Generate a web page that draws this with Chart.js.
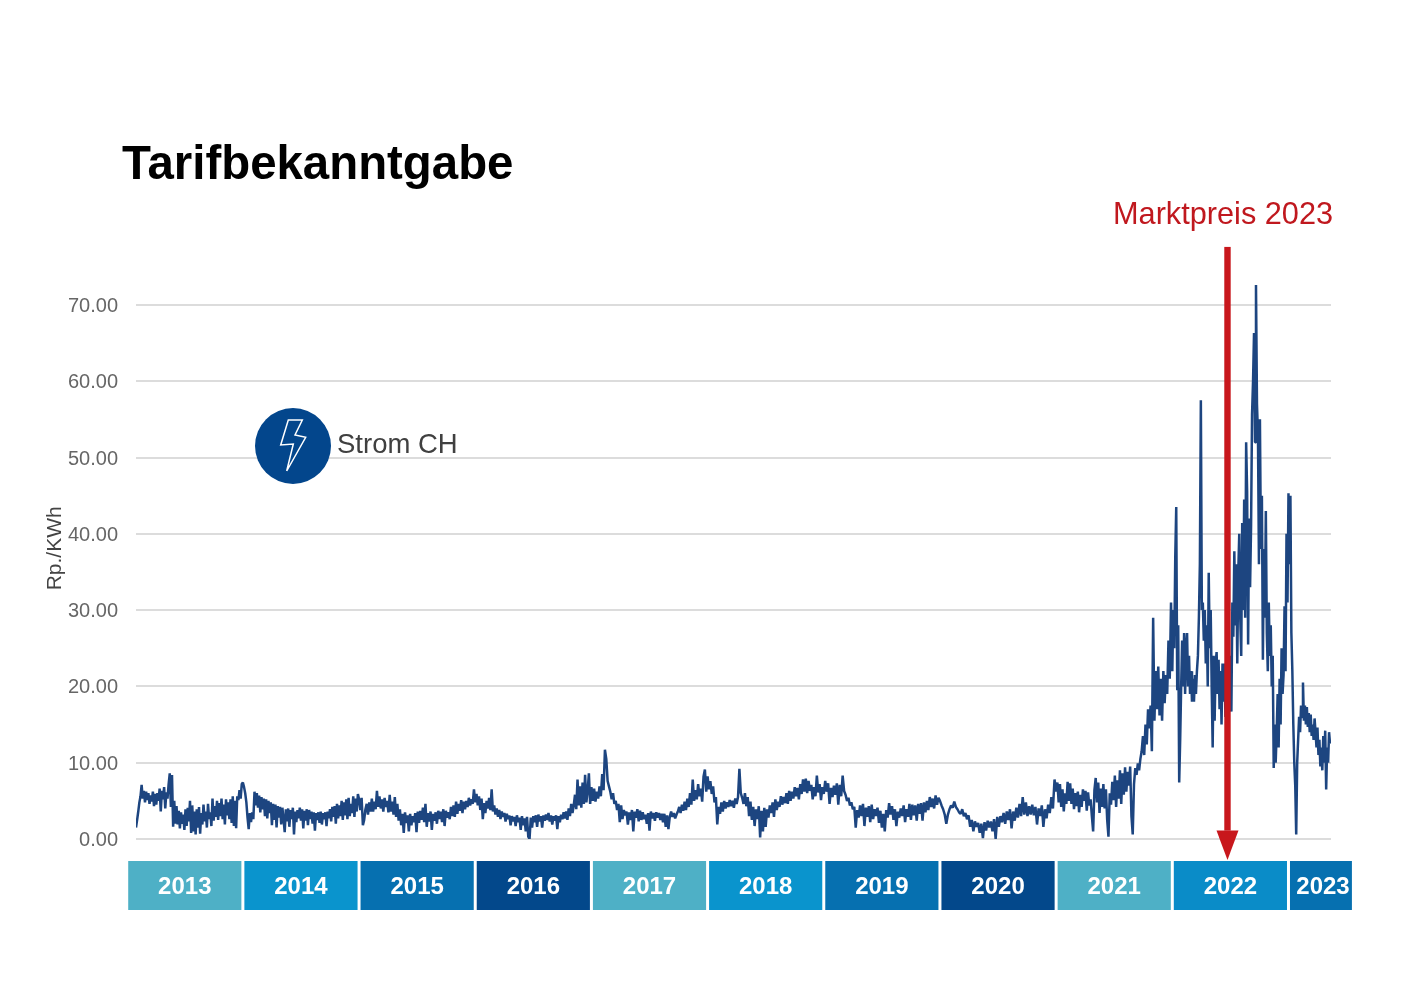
<!DOCTYPE html>
<html>
<head>
<meta charset="utf-8">
<script src="https://cdn.jsdelivr.net/npm/chart.js@4"></script>
<style>
  html, body { margin: 0; padding: 0; background: #fff; }
  #wrap { position: relative; width: 1415px; height: 998px; overflow: hidden; font-family: "Liberation Sans", Arial, sans-serif; }
  canvas { position: absolute; left: 0; top: 0; }
  .txt { position: absolute; white-space: nowrap; line-height: 1; }
  #title { left: 122px; top: 139px; font-size: 47.4px; font-weight: bold; color: #000; }
  #market { left: 1113px; top: 199px; font-size: 30.7px; color: #c0181e; }
  #strom { left: 337px; top: 430px; font-size: 27.5px; color: #404040; }
  #icon { position: absolute; left: 250px; top: 403px; }
</style>
</head>
<body>
<div id="wrap">
  <canvas id="chart" width="1415" height="998"></canvas>
  <div class="txt" id="title">Tarifbekanntgabe</div>
  <div class="txt" id="market">Marktpreis 2023</div>
  <svg id="icon" width="86" height="86" viewBox="250 403 86 86">
    <circle cx="293" cy="446" r="38" fill="#03468c"/>
    <path d="M288.3 420 L302.3 420 L295 435 L305.7 437.3 L286.7 471 L293.3 444 L280.7 445 Z" fill="none" stroke="#fff" stroke-width="1.5"/>
  </svg>
  <div class="txt" id="strom">Strom CH</div>
</div>
<script>
// Rp./KWh, one list per calendar year
const v2013 = [1.5,2.5,3.6,4.8,5.6,7.1,5.3,6.3,4.8,6.2,5.1,6.0,4.6,5.7,4.9,6.2,4.3,5.9,4.5,6.0,5.0,6.6,3.6,6.3,5.2,6.8,4.0,6.1,5.3,7.2,8.6,4.2,8.4,1.6,5.0,2.0,4.3,1.9,3.7,1.4,3.5,2.0,3.2,1.2,3.9,1.7,4.1,2.3,5.0,0.8,4.4,1.0,3.6,0.6,3.9,1.5,4.2,0.7,3.4,1.9,4.5,2.3,3.6,1.5,4.6,2.6,3.5,1.7,5.3,2.4,4.3,2.9,5.0,2.5,4.7,3.0,5.3,2.6,4.5,1.9,5.2,3.1,4.8,2.6,5.2,2.1,5.6,1.7,5.0,1.4,5.6,5.1,6.4,5.3,7.2];
const v2014 = [7.4,6.8,6.0,4.8,2.8,1.3,3.4,2.2,3.5,2.6,6.2,4.4,6.0,4.1,5.7,3.5,5.5,3.9,5.3,3.0,5.2,2.7,5.0,3.4,4.8,1.8,4.6,2.5,4.5,1.5,4.3,2.8,4.2,1.9,4.1,2.6,0.9,3.9,2.3,4.0,1.6,3.8,2.6,4.1,0.6,3.6,2.2,3.8,2.7,4.1,2.4,3.9,1.4,3.7,2.4,3.9,1.8,3.8,2.6,3.6,2.0,3.5,1.1,3.4,2.5,3.5,2.1,3.6,1.9,3.4,2.6,3.5,1.7,3.6,2.7,3.9,2.3,4.2,2.9,4.3,2.0,4.6,2.7,4.4,3.0,5.0,2.5,4.8,3.1,5.2,2.6,5.4,3.0,4.6,3.4,5.6,2.9,5.3,3.6,5.9];
const v2015 = [5.2,3.8,5.4,1.8,2.5,3.9,4.6,3.2,4.8,3.6,5.3,3.6,4.9,3.9,6.3,4.2,5.6,4.0,5.2,3.6,5.4,4.2,5.0,3.5,5.8,3.6,4.9,3.2,5.5,2.9,4.6,2.4,3.9,1.8,3.3,0.8,3.5,2.1,3.1,1.0,3.3,1.8,3.0,2.2,3.4,0.9,3.6,2.1,3.7,2.5,4.1,2.2,4.6,1.6,3.4,2.3,3.6,1.2,3.3,2.4,3.5,2.0,3.7,2.6,3.6,2.2,3.9,1.7,3.7,2.8,3.5,2.6,4.2,3.0,4.4,2.9,4.9,3.3,4.6,3.7,5.1,3.4,4.9,3.9,5.0,4.2,5.4,4.4,5.2,4.6,6.5];
const v2016 = [4.8,5.9,4.4,5.6,3.8,5.3,2.6,4.7,3.4,5.0,4.0,5.4,3.8,6.5,3.6,4.4,3.2,4.0,2.9,3.8,2.6,3.6,2.9,3.4,2.3,3.3,2.6,3.1,1.8,3.0,2.3,2.9,1.7,3.1,2.2,2.8,1.2,3.0,1.8,2.7,1.0,2.9,0.3,0.0,2.8,1.5,3.0,2.2,3.1,1.6,3.2,2.3,3.0,1.5,3.1,2.4,3.2,2.5,3.4,2.3,3.1,1.9,3.0,2.4,3.1,1.3,3.0,2.2,3.2,2.6,3.5,2.7,3.6,2.5,4.0,3.0,4.6,3.4,4.4,5.8,3.9,7.8,4.4,6.9,4.1,7.4,4.6,8.4,4.8,6.3,8.6,4.6];
const v2017 = [6.8,5.0,6.6,4.9,6.2,5.3,6.9,5.6,8.5,6.4,11.7,10.5,7.6,6.9,6.2,5.2,6.0,4.6,5.0,3.8,4.6,2.2,4.4,2.6,3.8,3.1,3.6,1.9,3.5,2.5,3.8,1.0,3.6,2.8,3.9,2.3,3.7,2.5,3.5,2.6,3.2,2.0,3.4,1.1,3.6,2.7,3.4,2.4,3.5,2.8,3.4,2.5,3.3,2.2,3.3,1.6,3.1,1.3,2.9,3.6,2.9,3.4,2.7,3.2,3.6,4.2,3.4,4.5,3.7,4.9,3.8,5.3,4.2,6.0,4.5,7.8,5.0,6.4,5.2,7.2,5.6,6.6,4.9,8.2,9.1,6.2];
const v2018 = [8.2,6.5,7.6,5.9,6.9,4.8,5.5,1.9,4.2,3.3,4.8,3.6,5.0,4.0,4.8,4.2,5.1,4.3,5.0,4.1,5.3,4.6,5.5,9.2,6.0,5.4,4.6,6.0,4.3,5.5,3.0,4.9,2.5,4.2,1.7,3.9,2.6,4.3,0.2,3.7,1.0,4.1,1.6,3.9,2.8,4.4,3.4,4.8,2.9,5.2,3.8,4.9,4.2,5.6,4.5,5.5,4.7,6.0,4.6,6.3,5.0,6.2,5.3,6.8,5.6,6.7,5.2,7.2,5.9,7.8,6.2,7.9,6.0,7.6,6.3,7.1,5.2,6.8,5.6,8.3,6.1,7.2,5.1,6.8];
const v2019 = [5.9,7.6,6.2,7.3,4.6,6.7,5.5,7.0,5.8,7.3,4.5,7.1,5.6,8.3,6.3,5.8,5.0,5.4,4.4,4.8,3.9,4.2,1.5,3.8,2.8,4.4,3.0,4.6,1.7,4.1,2.9,4.3,2.2,4.5,2.6,3.9,3.0,4.1,2.1,3.7,1.5,3.3,1.0,3.8,2.8,4.7,3.2,4.3,2.5,3.9,1.7,3.6,2.8,4.0,3.0,4.4,2.2,3.9,2.9,4.6,2.5,4.5,3.1,4.4,2.4,4.6,3.3,4.7,2.4,4.8,3.5,5.0,3.8,5.5,4.2,5.3,4.0,5.7,4.5,5.4];
const v2020 = [5.0,4.4,3.9,3.2,2.0,3.2,3.9,4.4,4.1,4.9,4.2,3.9,3.5,3.3,3.9,3.0,3.4,2.6,3.1,1.6,2.5,1.0,2.3,1.6,2.1,0.8,2.0,0.1,2.2,1.1,2.4,1.5,2.3,1.0,2.6,0.0,2.9,1.6,3.0,2.2,3.4,2.0,3.6,2.5,3.9,1.4,3.6,2.4,4.1,2.8,4.6,3.0,5.5,3.2,4.8,3.0,4.3,3.2,4.5,3.1,4.2,1.9,4.0,3.0,4.4,1.6,3.9,2.7,4.5,3.4,5.5,4.0,7.8];
const v2021 = [6.2,7.4,4.8,7.2,4.2,6.5,3.6,6.0,4.6,7.5,5.0,7.3,4.6,6.6,3.9,6.0,4.3,6.2,3.5,5.8,4.2,6.5,5.0,6.3,3.7,6.1,4.4,5.2,3.0,1.0,6.4,8.0,4.8,7.4,3.4,6.6,4.2,7.2,4.0,6.5,2.5,0.3,6.0,4.5,7.5,5.1,8.3,4.2,7.7,5.3,9.0,4.6,8.6,5.8,9.4,6.2,8.8,7.0,9.5,3.0,0.6,7.2,9.3,8.4,9.9,9.0,10.5,11.5,13.5,11.0,15.0,12.4,17.0,14.5,17.5,11.5,29.0,15.5,22.0,17.0,22.6,16.2,21.0,15.5,22.0,17.8,21.5,19.0,26.0,21.0,31.0];
const v2022 = [22,30,25,37,43.5,19.5,28,7.4,13,20,26,20,27,19,25,27,20,24,19,22,18,21,18,21.5,19,22,24,29,36,57.5,30,31,26,30,23,28,20,34.9,25,30,20,12,24,15.5,23,24.5,19,23.5,17,22,15,23,18,23,16,21,20,17,24,18,16.7,31,26.5,37.7,28,36,23,35,40,29,24,41.4,30,44.5,29,52,45.5,25.5,42,33,41,55.7,60,66.3,52,72.6,57,53,36,55,38,45,23.5,38,29,43,27,22,31,24,28,20,24,9.3,15,10,14,19,12,21,15,25,19,21.5,30.5,22,40,31];
const v2023 = [45.3,36,45,27,22,15,10,7,0.6,10,13,16,14,17.5,16,20.5,15.5,17.5,15,17.3,14.7,16.5,14,16.3,13.5,15,13,15.8,14,12,14.6,11,13,9.5,12,9,13.5,10,14.2,6.5,12,10,14,12.5];

const yearLists = [v2013, v2014, v2015, v2016, v2017, v2018, v2019, v2020, v2021, v2022, v2023];
const yearFrom = [2013.08, 2014, 2015, 2016, 2017, 2018, 2019, 2020, 2021, 2022, 2023];
const yearTo = [2014, 2015, 2016, 2017, 2018, 2019, 2020, 2021, 2022, 2023, 2023.366];

const yearLabels = ['2013','2014','2015','2016','2017','2018','2019','2020','2021','2022','2023'];
const labelPos = [2013.5, 2014.5, 2015.5, 2016.5, 2017.5, 2018.5, 2019.5, 2020.5, 2021.5, 2022.5, 2023.297];
const bandFrom = [2013, 2014, 2015, 2016, 2017, 2018, 2019, 2020, 2021, 2022, 2023];
const bandTo = [2014, 2015, 2016, 2017, 2018, 2019, 2020, 2021, 2022, 2023, 2023.546];
const bandColors = ['#4eb0c6','#0a94cd','#0670b0','#03488b','#4eb0c6','#0a94cd','#0670b0','#03488b','#4eb0c6','#0a8cc8','#0670b0'];

const markerYear = 2022.475;

const points = [];
yearLists.forEach((list, k) => {
  list.forEach((v, i) => {
    points.push({ x: yearFrom[k] + (yearTo[k] - yearFrom[k]) * i / list.length, y: v });
  });
});

// year strip under the axis and the red arrow
const extras = {
  id: 'extras',
  beforeDraw(chart) {
    const { ctx } = chart;
    const x = chart.scales.x;
    ctx.save();
    ctx.fillStyle = '#fff';
    ctx.fillRect(0, 0, chart.width, chart.height);
    bandColors.forEach((c, i) => {
      const a = x.getPixelForValue(bandFrom[i]) + 1.5;
      const b = x.getPixelForValue(bandTo[i]) - 1.5;
      ctx.fillStyle = c;
      ctx.fillRect(a, 861, (i === 10 ? b + 1.5 : b) - a, 49);
    });
    ctx.restore();
  },
  afterDatasetsDraw(chart) {
    const { ctx } = chart;
    const px = chart.scales.x.getPixelForValue(markerYear);
    const y = chart.scales.y;
    const top = y.getPixelForValue(77.6);
    const neck = y.getPixelForValue(1.1);
    const tip = y.getPixelForValue(-2.75);
    ctx.save();
    ctx.fillStyle = '#c8171c';
    ctx.fillRect(px - 3.2, top, 6.4, neck - top);
    ctx.beginPath();
    ctx.moveTo(px - 11, neck);
    ctx.lineTo(px + 11, neck);
    ctx.lineTo(px, tip);
    ctx.closePath();
    ctx.fill();
    ctx.restore();
  }
};

new Chart(document.getElementById('chart'), {
  type: 'line',
  plugins: [extras],
  data: {
    datasets: [{
      data: points,
      borderColor: '#1d4580',
      borderWidth: 2.5,
      borderJoinStyle: 'bevel',
      pointRadius: 0,
      tension: 0
    }]
  },
  options: {
    responsive: false,
    animation: false,
    devicePixelRatio: 1,
    layout: { padding: { top: 257.6, left: 43, right: 84, bottom: 71 } },
    plugins: { legend: { display: false }, tooltip: { enabled: false } },
    scales: {
      x: {
        type: 'linear',
        min: 2013.08,
        max: 2023.366,
        grid: { display: false },
        border: { display: false },
        afterFit(s) { s.height = 88; },
        afterBuildTicks(s) { s.ticks = labelPos.map(v => ({ value: v })); },
        ticks: {
          autoSkip: false,
          maxRotation: 0,
          padding: 26,
          color: '#fff',
          font: { family: '"Liberation Sans", Arial, sans-serif', size: 24, weight: 'bold' },
          callback: (v) => yearLabels[labelPos.indexOf(v)]
        }
      },
      y: {
        min: 0,
        max: 76.2,
        afterFit(s) { s.width = 93; },
        grid: { color: '#dcdcdc', lineWidth: 2, drawTicks: false },
        border: { display: false },
        ticks: {
          stepSize: 10,
          includeBounds: false,
          padding: 18,
          labelOffset: 1.5,
          color: '#666',
          font: { family: '"Liberation Sans", Arial, sans-serif', size: 20 },
          callback: (v) => v.toFixed(2)
        },
        title: {
          display: true,
          text: 'Rp./KWh',
          color: '#444',
          padding: 0,
          font: { family: '"Liberation Sans", Arial, sans-serif', size: 21 }
        }
      }
    }
  }
});
</script>
</body>
</html>
